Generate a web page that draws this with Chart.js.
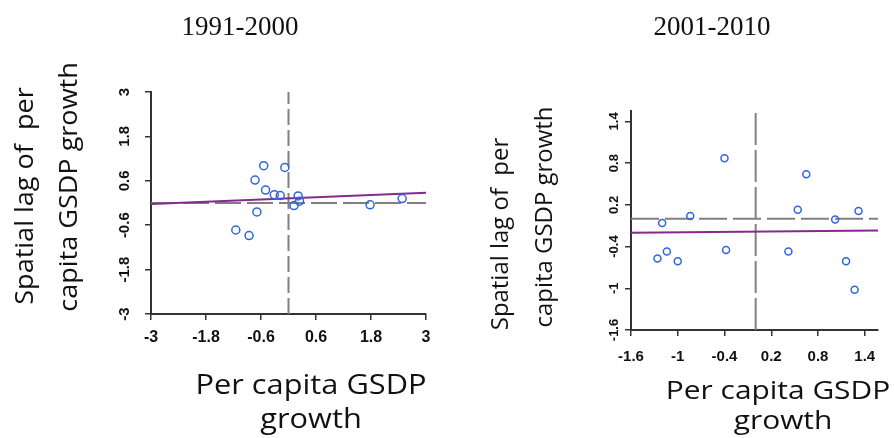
<!DOCTYPE html>
<html lang="en">
<head>
  <meta charset="UTF-8">
  <title>Moran scatterplots</title>
  <script src="https://cdn.jsdelivr.net/npm/chart.js@4.4.1/dist/chart.umd.min.js"></script>
  <style>
    body {
      margin: 0;
      background: #fff;
    }

    .panel {
      position: absolute;
      top: 0;
      width: 447px;
      height: 438px;
    }

    #p1 { left: 0; }
    #p2 { left: 447px; }
  </style>
</head>

<body>
  <div class="panel" id="p1"><canvas id="chart1" width="447" height="438"></canvas></div>
  <div class="panel" id="p2"><canvas id="chart2" width="447" height="438"></canvas></div>

  <script>
    // 1991-2000
    const ticks1 = [-3, -1.8, -0.6, 0.6, 1.8, 3];
    const xRange1 = [-3, 3];
    const yRange1 = [-3, 3];
    const growth1 = [-0.54, -0.08, -0.73, -0.5, -0.31, -0.18, 0.21, 0.24, 0.12, -0.69, -1.15, -0.86, 1.78, 2.48];
    const lag1 = [1.01, 0.96, 0.62, 0.35, 0.22, 0.2, 0.19, 0.05, -0.07, -0.24, -0.73, -0.88, -0.05, 0.12];
    const fitX1 = [-3, 3];
    const fitY1 = [-0.03, 0.28];

    // 2001-2010
    const ticks2 = [-1.6, -1, -0.4, 0.2, 0.8, 1.4];
    const xRange2 = [-1.6, 1.57];
    const yRange2 = [-1.6, 1.55];
    const growth2 = [-1.2, -0.84, -1.26, -1.14, -1.0, -0.4, -0.38, 0.42, 0.54, 0.65, 1.02, 1.16, 1.32, 1.27];
    const lag2 = [-0.06, 0.04, -0.57, -0.47, -0.61, 0.87, -0.45, -0.47, 0.13, 0.64, -0.01, -0.61, 0.11, -1.02];
    const fitX2 = [-1.6, 1.57];
    const fitY2 = [-0.2, -0.17];

    // standardised variables: quadrant lines sit at zero
    const centre = 0;

    const yTitle = ['Spatial lag of  per', 'capita GSDP growth'];
    const xTitle = ['Per capita GSDP', 'growth'];

    function put(ctx, text, x, y, font, angle, sx, base) {
      ctx.save();
      ctx.translate(x, y);
      ctx.rotate(angle);
      ctx.scale(sx, 1);
      ctx.font = font;
      ctx.textBaseline = base;
      ctx.fillText(text, 0, 0);
      ctx.restore();
    }

    // titles, axis titles and the rotated y tick labels
    const panelText = {
      id: 'panelText',
      afterDraw(chart, args, o) {
        const ctx = chart.ctx;
        ctx.save();
        ctx.fillStyle = '#111';
        ctx.textAlign = 'center';
        put(ctx, o.title, o.titleAt[0], o.titleAt[1], '27px "Liberation Serif"', 0, 1, 'alphabetic');
        yTitle.forEach((t, i) => put(ctx, t, o.yTitleAt[i][0], o.yTitleAt[i][1], o.yTitleFont, -Math.PI / 2, o.yTitleSx, 'middle'));
        xTitle.forEach((t, i) => put(ctx, t, o.xTitleAt[i][0], o.xTitleAt[i][1], o.xTitleFont, 0, o.xTitleSx, 'alphabetic'));
        const ys = chart.scales.y;
        ys.ticks.forEach(t => put(ctx, String(t.value), o.yTickX, ys.getPixelForValue(t.value), o.yTickFont, -Math.PI / 2, 1, 'middle'));
        ctx.restore();
      }
    };

    function pts(xs, ys) {
      return xs.map((x, i) => ({ x: x, y: ys[i] }));
    }

    function makePanel(id, p) {
      const axis = (range, ticks, extra) => Object.assign({
        type: 'linear',
        min: range[0],
        max: range[1],
        afterBuildTicks: s => { s.ticks = ticks.map(v => ({ value: v })); },
        grid: { drawOnChartArea: false, drawTicks: true, tickLength: 6, color: '#333', lineWidth: 1.5 },
        border: { display: true, color: '#333', width: 2 }
      }, extra);

      new Chart(document.getElementById(id), {
        type: 'scatter',
        data: {
          datasets: [{
            data: pts(p.gx, p.ly),
            pointRadius: p.r,
            pointBorderWidth: 1.5,
            borderColor: '#3064e0',
            backgroundColor: 'rgba(0,0,0,0)',
            order: 0
          }, {
            data: pts(p.fx, p.fy),
            showLine: true,
            pointRadius: 0,
            borderColor: '#852a8e',
            borderWidth: 2,
            order: 1
          }, {
            data: pts(p.xr, [centre, centre]),
            showLine: true,
            pointRadius: 0,
            borderColor: '#808080',
            borderWidth: 2,
            borderDash: p.hDash,
            order: 2
          }, {
            data: pts([centre, centre], p.yr),
            showLine: true,
            pointRadius: 0,
            borderColor: '#808080',
            borderWidth: 2,
            borderDash: p.vDash,
            order: 2
          }]
        },
        options: {
          responsive: false,
          devicePixelRatio: 1,
          animation: false,
          layout: { padding: p.pad },
          plugins: {
            legend: { display: false },
            tooltip: { enabled: false },
            panelText: p.text
          },
          scales: {
            x: axis(p.xr, p.ticks, {
              afterFit: s => { s.height = p.xH; },
              ticks: {
                font: { family: 'Liberation Sans', size: p.xTickSize, weight: 'bold' },
                color: '#111',
                padding: p.xTickPad,
                maxRotation: 0,
                autoSkip: false,
                callback: v => String(v)
              }
            }),
            y: axis(p.yr, p.ticks, {
              afterFit: s => { s.width = p.yW; },
              ticks: { display: false }
            })
          }
        },
        plugins: [panelText]
      });
    }

    makePanel('chart1', {
      gx: growth1, ly: lag1, fx: fitX1, fy: fitY1,
      xr: xRange1, yr: yRange1, ticks: ticks1, r: 4,
      hDash: [26, 6], vDash: [16, 5],
      pad: { left: 0, top: 92, right: 21, bottom: 0 },
      xH: 124, yW: 151, xTickSize: 16, xTickPad: 8,
      text: {
        title: '1991-2000', titleAt: [240, 35],
        yTitleFont: '26px "Open Sans"', yTitleSx: 1.04, yTitleAt: [[26, 196], [70, 187]],
        xTitleFont: '27px "Open Sans"', xTitleSx: 1.14, xTitleAt: [[311, 394], [311, 428]],
        yTickX: 125, yTickFont: 'bold 15px "Liberation Sans"'
      }
    });

    makePanel('chart2', {
      gx: growth2, ly: lag2, fx: fitX2, fy: fitY2,
      xr: xRange2, yr: yRange2, ticks: ticks2, r: 3.5,
      hDash: [28, 6], vDash: [32, 5],
      pad: { left: 0, top: 111, right: 16, bottom: 0 },
      xH: 108, yW: 184, xTickSize: 15, xTickPad: 12,
      text: {
        title: '2001-2010', titleAt: [265, 35],
        yTitleFont: '23px "Open Sans"', yTitleSx: 1.04, yTitleAt: [[54, 234], [98, 217]],
        xTitleFont: '26px "Open Sans"', xTitleSx: 1.15, xTitleAt: [[331, 399], [336, 429]],
        yTickX: 167, yTickFont: 'bold 13px "Liberation Sans"'
      }
    });
  </script>
</body>

</html>
